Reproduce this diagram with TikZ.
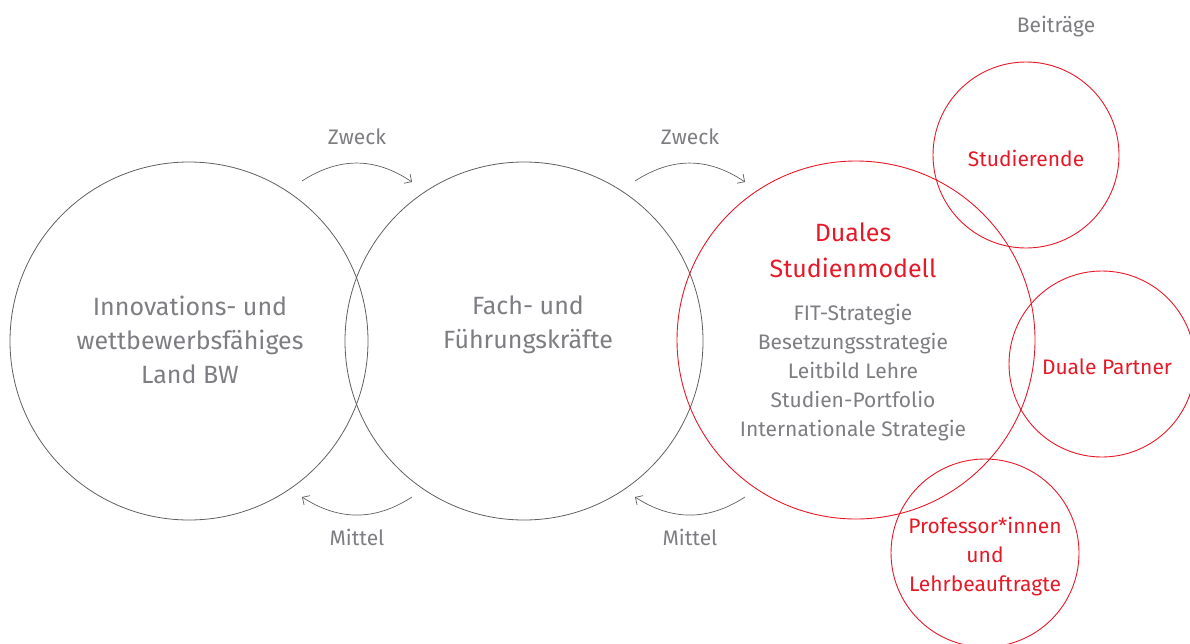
\documentclass[tikz,border=0pt]{standalone}
\usepackage{fontspec}
\setmainfont{Fira Sans}
\usetikzlibrary{arrows.meta}
\definecolor{txtgray}{RGB}{125,125,130}
\definecolor{linegray}{RGB}{95,95,95}
\definecolor{dhred}{RGB}{230,25,40}
\tikzset{
  x=1pt, y=-1pt,
  bigring/.style={circle, draw=linegray, line width=0.8pt, minimum size=358pt, inner sep=0pt},
  redring/.style={circle, draw=dhred, line width=0.9pt, inner sep=0pt},
  maintext/.style={text=txtgray, font=\fontsize{25}{34}\selectfont, align=center},
  redtitle/.style={text=dhred, font=\fontsize{25}{36}\selectfont, align=center},
  smalltext/.style={text=txtgray, font=\fontsize{21}{29}\selectfont, align=center},
  redlabel/.style={text=dhred, font=\fontsize{21}{29}\selectfont, align=center},
  flow/.style={draw=linegray, line width=0.7pt, -{Straight Barb[length=5.5pt,width=11pt]}}
}
\begin{document}
\begin{tikzpicture}
\useasboundingbox (0,0) rectangle (1190,643);

% three main circles
\node[bigring] (land) at (189,341) {};
\node[bigring] (kraefte) at (524,341) {};
\node[bigring, draw=dhred, line width=0.9pt] (modell) at (856,340) {};

% contribution circles
\node[redring, minimum size=186pt] (stud) at (1026,155) {};
\node[redring, minimum size=186pt] (partner) at (1102,364) {};
\node[redring, minimum size=188pt] (prof) at (985,553) {};

% texts
\node[maintext] (landtxt) at (190,340) {Innovations- und\\wettbewerbsfähiges\\Land BW};
\node[maintext] (kraeftetxt) at (528,325) {Fach- und\\Führungskräfte};
\node[redtitle] (modelltxt) at (853,250) {Duales\\Studienmodell};
\node[smalltext] (strat) at (853,373) {FIT-Strategie\\Besetzungsstrategie\\Leitbild Lehre\\Studien-Portfolio\\Internationale Strategie};
\node[redlabel] (studtxt) at (1026,158) {Studierende};
\node[redlabel] (partnertxt) at (1107,367) {Duale Partner};
\node[redlabel] (proftxt) at (985,557) {Professor*innen\\und\\Lehrbeauftragte};
\node[smalltext] (beitraege) at (1056,27) {Beiträge};

% Zweck / Mittel arrows
\node[smalltext] (zweck1) at (357,137) {Zweck};
\node[smalltext] (mittel1) at (357,537) {Mittel};
\node[smalltext] (zweck2) at (690,137) {Zweck};
\node[smalltext] (mittel2) at (690,537) {Mittel};

\coordinate (z1a) at (302,181);
\coordinate (z1b) at (412,182);
\coordinate (m1a) at (412,497);
\coordinate (m1b) at (302,497);
\coordinate (z2a) at (635,181);
\coordinate (z2b) at (745,182);
\coordinate (m2a) at (745,497);
\coordinate (m2b) at (635,497);

\draw[flow] (z1a) .. controls (339,157) and (375,157) .. (z1b);
\draw[flow] (m1a) .. controls (375,521) and (339,521) .. (m1b);
\draw[flow] (z2a) .. controls (672,157) and (708,157) .. (z2b);
\draw[flow] (m2a) .. controls (708,521) and (672,521) .. (m2b);
\end{tikzpicture}
\end{document}
